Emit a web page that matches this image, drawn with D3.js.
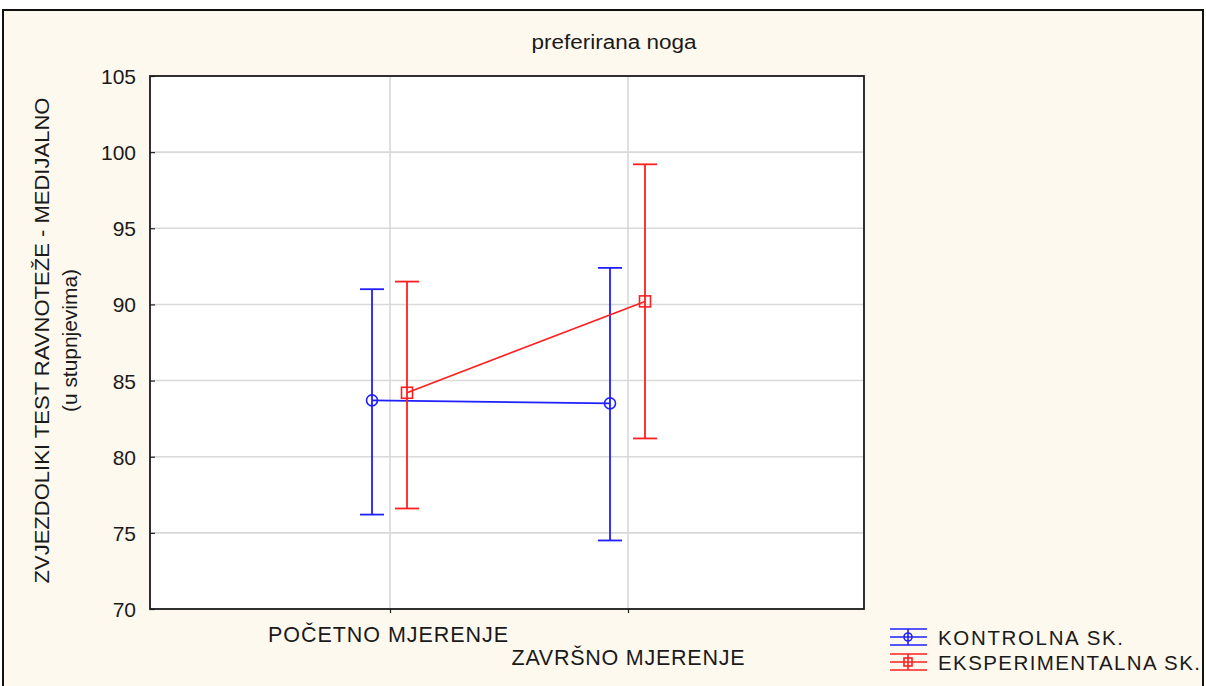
<!DOCTYPE html>
<html>
<head>
<meta charset="utf-8">
<script src="https://cdn.jsdelivr.net/npm/d3@7"></script>
<style>
  html, body { margin: 0; padding: 0; background: #ffffff; }
  svg { display: block; font-family: "Liberation Sans", Arial, sans-serif; }
</style>
</head>
<body>
<svg id="chart" width="1206" height="686"></svg>
<script>
// ---- data ----
const title = "preferirana noga";
const yLabelLines = ["ZVJEZDOLIKI TEST RAVNOTEŽE - MEDIJALNO", "(u stupnjevima)"];
const categories = ["POČETNO MJERENJE", "ZAVRŠNO MJERENJE"];
const seriesNames = ["KONTROLNA SK.", "EKSPERIMENTALNA SK."];
const kontrolnaMean = [83.7, 83.5];
const kontrolnaLow = [76.2, 74.5];
const kontrolnaHigh = [91.0, 92.4];
const eksperimentalnaMean = [84.2, 90.2];
const eksperimentalnaLow = [76.6, 81.2];
const eksperimentalnaHigh = [91.5, 99.2];
const yTicks = [70, 75, 80, 85, 90, 95, 100, 105];

const series = [
  { name: seriesNames[0], mean: kontrolnaMean, low: kontrolnaLow, high: kontrolnaHigh, color: "#1f1fff", marker: "circle", offset: -18 },
  { name: seriesNames[1], mean: eksperimentalnaMean, low: eksperimentalnaLow, high: eksperimentalnaHigh, color: "#ff1f1f", marker: "square", offset: 17 }
];

// ---- layout ----
const svg = d3.select("#chart");
const plot = { left: 150, top: 76, right: 864, bottom: 609 };

// outer frame
svg.append("rect").attr("x", 3).attr("y", 10).attr("width", 1200).attr("height", 700)
  .attr("fill", "#fef9ee").attr("stroke", "#111").attr("stroke-width", 2);

// plot background
svg.append("rect").attr("x", plot.left).attr("y", plot.top)
  .attr("width", plot.right - plot.left).attr("height", plot.bottom - plot.top)
  .attr("fill", "#ffffff");

const x = d3.scalePoint().domain(categories).range([plot.left + 2, plot.right + 2]).padding(1);
const y = d3.scaleLinear().domain([70, 105]).range([plot.bottom, plot.top]);

// grid
const grid = svg.append("g");
grid.selectAll("line.h").data(yTicks.slice(1, -1)).join("line")
  .attr("x1", plot.left).attr("x2", plot.right)
  .attr("y1", d => y(d)).attr("y2", d => y(d))
  .attr("stroke", "#d9d9d9").attr("stroke-width", 1.6);
grid.selectAll("line.v").data(categories).join("line")
  .attr("x1", d => x(d)).attr("x2", d => x(d))
  .attr("y1", plot.top).attr("y2", plot.bottom)
  .attr("stroke", "#d9d9d9").attr("stroke-width", 1.6);

// y axis ticks (inside) and labels
const yAxis = d3.axisLeft(y).tickValues(yTicks).tickSize(-5).tickPadding(14).tickFormat(d3.format("d"));
const gy = svg.append("g").attr("transform", `translate(${plot.left},0)`).call(yAxis);
gy.select(".domain").remove();
gy.selectAll(".tick line").attr("stroke", "#222").attr("stroke-width", 1.2);
gy.selectAll(".tick text").attr("font-size", 21).attr("fill", "#1a1a1a")
  .attr("font-family", "'Liberation Sans', Arial, sans-serif").attr("dy", "0.36em");

// x axis ticks
const xAxis = d3.axisBottom(x).tickSize(4).tickFormat("");
const gx = svg.append("g").attr("transform", `translate(0,${plot.bottom})`).call(xAxis);
gx.select(".domain").remove();
gx.selectAll(".tick line").attr("stroke", "#222").attr("stroke-width", 1.2);

// category labels (staggered)
const catBaseline = [642, 665];
const catWidths = [240, 233];
const catShift = [-2, 0];
svg.selectAll("text.cat").data(categories).join("text")
  .attr("class", "cat")
  .attr("x", (d, i) => x(d) + catShift[i]).attr("y", (d, i) => catBaseline[i])
  .attr("text-anchor", "middle").attr("font-size", 21.5).attr("fill", "#1a1a1a")
  .attr("textLength", (d, i) => catWidths[i]).attr("lengthAdjust", "spacing")
  .text(d => d);

// plot border
svg.append("rect").attr("x", plot.left).attr("y", plot.top)
  .attr("width", plot.right - plot.left).attr("height", plot.bottom - plot.top)
  .attr("fill", "none").attr("stroke", "#1a1a1a").attr("stroke-width", 1.8);

// title
svg.append("text").attr("x", 614).attr("y", 49).attr("text-anchor", "middle")
  .attr("font-size", 20).attr("fill", "#1a1a1a")
  .attr("textLength", 165).attr("lengthAdjust", "spacingAndGlyphs")
  .text(title);

// y label
const yLabX = [42, 70];
const yLabW = [486, 143];
yLabelLines.forEach((t, i) => {
  svg.append("text")
    .attr("transform", `translate(${yLabX[i] + 7},${(plot.top + plot.bottom) / 2 - 2}) rotate(-90)`)
    .attr("text-anchor", "middle").attr("font-size", 20).attr("fill", "#1a1a1a")
    .attr("textLength", yLabW[i]).attr("lengthAdjust", "spacingAndGlyphs")
    .text(t);
});

// series
const capW = 24;
series.forEach(s => {
  const g = svg.append("g");
  const px = (i) => x(categories[i]) + s.offset;
  // connecting line
  g.append("path")
    .datum(s.mean)
    .attr("d", d3.line().x((d, i) => px(i)).y(d => y(d)))
    .attr("fill", "none").attr("stroke", s.color).attr("stroke-width", 1.6);
  // error bars
  s.mean.forEach((m, i) => {
    const cx = px(i);
    g.append("line").attr("x1", cx).attr("x2", cx).attr("y1", y(s.low[i])).attr("y2", y(s.high[i]))
      .attr("stroke", s.color).attr("stroke-width", 1.8);
    [s.low[i], s.high[i]].forEach(v => {
      g.append("line").attr("x1", cx - capW / 2).attr("x2", cx + capW / 2).attr("y1", y(v)).attr("y2", y(v))
        .attr("stroke", s.color).attr("stroke-width", 1.8);
    });
    if (s.marker === "circle") {
      g.append("circle").attr("cx", cx).attr("cy", y(m)).attr("r", 5.5)
        .attr("fill", "none").attr("stroke", s.color).attr("stroke-width", 1.6);
    } else {
      g.append("rect").attr("x", cx - 5.5).attr("y", y(m) - 5.5).attr("width", 11).attr("height", 11)
        .attr("fill", "none").attr("stroke", s.color).attr("stroke-width", 1.6);
    }
  });
});

// legend
const legY = [637, 662];
const legW = [185, 262];
series.forEach((s, i) => {
  const g = svg.append("g").attr("transform", `translate(0,${legY[i]})`);
  [-8, 0, 8].forEach(dy => {
    g.append("line").attr("x1", 890).attr("x2", 927).attr("y1", dy).attr("y2", dy)
      .attr("stroke", s.color).attr("stroke-width", 1.6);
  });
  g.append("line").attr("x1", 908).attr("x2", 908).attr("y1", -8).attr("y2", 8)
    .attr("stroke", s.color).attr("stroke-width", 1.6);
  if (s.marker === "circle") {
    g.append("circle").attr("cx", 908).attr("cy", 0).attr("r", 4)
      .attr("fill", "none").attr("stroke", s.color).attr("stroke-width", 1.6);
  } else {
    g.append("rect").attr("x", 904).attr("y", -4).attr("width", 8).attr("height", 8)
      .attr("fill", "none").attr("stroke", s.color).attr("stroke-width", 1.6);
  }
  g.append("text").attr("x", 938).attr("y", 8).attr("font-size", 20.5).attr("fill", "#1a1a1a")
    .attr("textLength", legW[i]).attr("lengthAdjust", "spacing")
    .text(s.name);
});
</script>
</body>
</html>
